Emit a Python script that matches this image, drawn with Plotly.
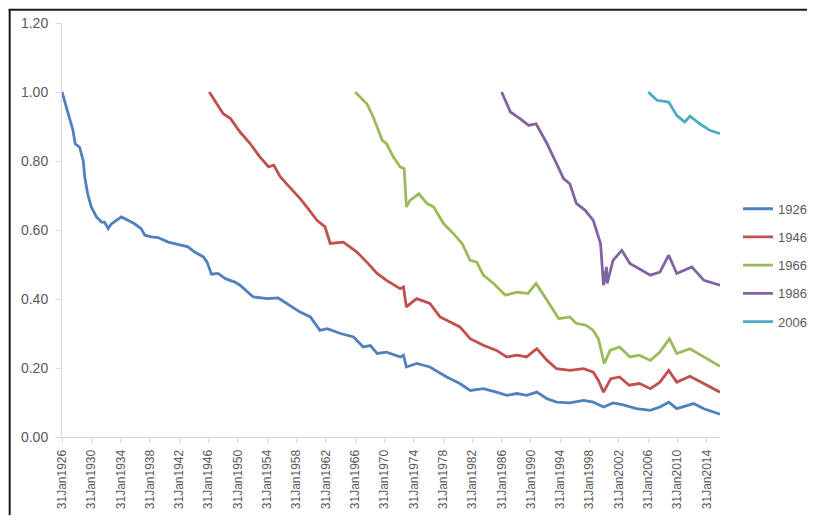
import plotly.graph_objects as go

# ---- data (decimal years, values) ----
t1926 = [1926.0, 1926.8, 1927.5, 1927.8, 1928.4, 1928.9, 1929.1, 1929.5, 1930.0, 1930.7, 1931.4, 1931.8,
         1932.3, 1932.7, 1933.4, 1934.1, 1935.0, 1935.9, 1936.8, 1937.3, 1938.2, 1939.1, 1940.5, 1941.8,
         1943.2, 1944.1, 1945.3, 1945.8, 1946.4, 1947.3, 1948.3, 1949.6, 1950.3, 1952.1, 1954.0, 1955.5,
         1957.1, 1958.5, 1959.9, 1961.2, 1962.2, 1964.0, 1965.8, 1967.1, 1968.1, 1969.0, 1970.3, 1972.2,
         1972.6, 1973.0, 1974.4, 1976.2, 1978.5, 1980.3, 1981.7, 1983.5, 1985.3, 1986.7, 1988.1, 1989.4,
         1990.8, 1992.2, 1993.5, 1995.3, 1997.2, 1998.5, 1999.9, 2001.2, 2002.6, 2004.4, 2006.3, 2007.6,
         2008.8, 2009.9, 2012.2, 2013.6, 2015.8]
v1926 = [1.00, 0.937, 0.889, 0.850, 0.84, 0.80, 0.754, 0.705, 0.667, 0.638, 0.623, 0.623,
         0.604, 0.617, 0.628, 0.638, 0.628, 0.618, 0.604, 0.585, 0.58, 0.578, 0.565, 0.558,
         0.551, 0.536, 0.522, 0.507, 0.472, 0.474, 0.459, 0.449, 0.44, 0.406, 0.401, 0.403,
         0.382, 0.362, 0.348, 0.309, 0.314, 0.30, 0.29, 0.261, 0.265, 0.242, 0.246, 0.232,
         0.237, 0.203, 0.213, 0.203, 0.174, 0.155, 0.135, 0.140, 0.130, 0.121, 0.126, 0.121,
         0.130, 0.111, 0.101, 0.099, 0.106, 0.101, 0.087, 0.099, 0.093, 0.082, 0.077, 0.087,
         0.101, 0.082, 0.097, 0.082, 0.066]

t1946 = [1946.1, 1948.0, 1949.0, 1950.3, 1951.7, 1953.0, 1954.2, 1954.9, 1955.8, 1957.1, 1958.5, 1959.4,
         1960.8, 1961.9, 1962.6, 1964.4, 1966.25, 1967.6, 1969.0, 1970.3, 1972.15, 1972.6, 1973.0, 1974.4,
         1976.2, 1977.6, 1978.9, 1980.3, 1981.7, 1983.5, 1985.3, 1986.7, 1988.1, 1989.4, 1990.8, 1992.2,
         1993.5, 1995.3, 1997.2, 1998.5, 1999.2, 1999.9, 2000.9, 2002.1, 2003.4, 2004.8, 2006.3, 2007.6,
         2008.8, 2009.9, 2011.7, 2013.6, 2015.8]
v1946 = [1.00, 0.937, 0.923, 0.884, 0.85, 0.812, 0.783, 0.788, 0.754, 0.725, 0.691, 0.667,
         0.628, 0.609, 0.561, 0.565, 0.536, 0.507, 0.474, 0.454, 0.43, 0.435, 0.377, 0.401,
         0.387, 0.348, 0.333, 0.319, 0.285, 0.266, 0.251, 0.232, 0.237, 0.232, 0.256, 0.222,
         0.198, 0.193, 0.198, 0.188, 0.164, 0.130, 0.169, 0.174, 0.15, 0.155, 0.14, 0.159,
         0.193, 0.159, 0.176, 0.155, 0.130]

t1966 = [1966.0, 1967.6, 1968.5, 1969.7, 1970.3, 1971.2, 1972.15, 1972.7, 1973.0, 1973.5, 1974.7, 1975.8,
         1976.7, 1978.1, 1979.4, 1980.6, 1981.7, 1982.6, 1983.5, 1984.9, 1986.5, 1988.1, 1989.6, 1990.7,
         1992.2, 1993.8, 1995.3, 1996.2, 1997.5, 1998.5, 1999.2, 2000.0, 2000.8, 2002.1, 2003.5, 2004.8,
         2006.3, 2007.6, 2008.9, 2009.9, 2011.7, 2013.6, 2015.8]
v1966 = [1.00, 0.966, 0.927, 0.86, 0.85, 0.812, 0.783, 0.778, 0.667, 0.686, 0.705, 0.677,
         0.667, 0.618, 0.59, 0.561, 0.512, 0.507, 0.469, 0.445, 0.411, 0.42, 0.416, 0.445,
         0.396, 0.343, 0.348, 0.329, 0.324, 0.309, 0.285, 0.213, 0.251, 0.261, 0.232, 0.237,
         0.222, 0.246, 0.285, 0.242, 0.256, 0.232, 0.205]

t1986 = [1986.0, 1987.2, 1988.5, 1989.7, 1990.7, 1992.2, 1993.5, 1994.45, 1995.3, 1996.2, 1997.4, 1998.5,
         1999.5, 1999.9, 2000.3, 2000.4, 2001.2, 2002.4, 2003.5, 2004.8, 2006.3, 2007.6, 2008.8, 2009.9,
         2011.95, 2013.6, 2015.8]
v1986 = [1.00, 0.942, 0.923, 0.903, 0.908, 0.85, 0.792, 0.749, 0.734, 0.677, 0.657, 0.628,
         0.561, 0.44, 0.493, 0.445, 0.512, 0.541, 0.503, 0.488, 0.469, 0.478, 0.527, 0.474,
         0.493, 0.454, 0.44]

t2006 = [2006.0, 2007.2, 2008.8, 2009.9, 2011.0, 2011.7, 2013.05, 2014.4, 2015.8]
v2006 = [1.00, 0.976, 0.971, 0.932, 0.913, 0.93, 0.908, 0.889, 0.879]

series_names = ["1926", "1946", "1966", "1986", "2006"]
series_t = [t1926, t1946, t1966, t1986, t2006]
series_v = [v1926, v1946, v1966, v1986, v2006]
colors = ["#4F81BD", "#C0504D", "#9BBB59", "#8064A2", "#4BACC6"]

tick_years = list(range(1926, 2015, 4))
tick_labels = ["31Jan%d" % y for y in tick_years]
y_ticks = [0.0, 0.2, 0.4, 0.6, 0.8, 1.0, 1.2]

fig = go.Figure()
for name, t, v, c in zip(series_names, series_t, series_v, colors):
    fig.add_trace(go.Scatter(x=t, y=v, mode="lines", name=name, legendgroup=name,
                             line=dict(color=c, width=2.8)))

# the page body adds an 8px margin; size the figure so nothing overflows
# and work in screen coordinates, subtracting the offset
OFF = 8
W, H = 799, 507
plot_l, plot_r, plot_t, plot_b = 62.3, 720, 22.7, 436.7
ml = plot_l - OFF
mr = W - (plot_r - OFF)
mt = plot_t - OFF
mb = H - (plot_b - OFF)
pw, ph = W - ml - mr, H - mt - mb

def px_x(p):
    return (p - OFF - ml) / pw

def px_y(p):
    return (H - mb - (p - OFF)) / ph

axis_col = "#D9D9D9"
txt_col = "#595959"
fig.update_layout(
    width=W, height=H,
    margin=dict(l=ml, r=mr, t=mt, b=mb, autoexpand=False),
    paper_bgcolor="white", plot_bgcolor="white",
    font=dict(family="Liberation Sans, Arial, sans-serif", size=12, color=txt_col),
    showlegend=True,
    legend=dict(x=px_x(738), y=px_y(193.5), xanchor="left", yanchor="top",
                font=dict(size=13, color=txt_col), tracegroupgap=8.3,
                itemwidth=30, bgcolor="rgba(0,0,0,0)"),
    xaxis=dict(range=[1926, 2015.8], tickmode="array", tickvals=tick_years, ticktext=tick_labels,
               tickangle=-90, showgrid=False, zeroline=False, showline=True, linecolor=axis_col,
               linewidth=1, ticks="outside", ticklen=5, tickcolor=axis_col, ticklabelstandoff=2,
               tickfont=dict(size=12, color=txt_col)),
    yaxis=dict(range=[0, 1.2], tickmode="array", tickvals=y_ticks, tickformat=".2f",
               showgrid=False, zeroline=False, showline=True, linecolor=axis_col, linewidth=1,
               ticks="outside", ticklen=5, tickcolor=axis_col, ticklabelstandoff=5,
               tickfont=dict(size=14, color=txt_col)),
    shapes=[
        dict(type="line", xref="paper", yref="paper", x0=px_x(9), x1=px_x(820), y0=px_y(9.5), y1=px_y(9.5),
             line=dict(color="#1a1a1a", width=2)),
        dict(type="line", xref="paper", yref="paper", x0=px_x(10), x1=px_x(10), y0=px_y(9), y1=px_y(530),
             line=dict(color="#1a1a1a", width=2)),
    ],
)

fig.write_html("out.html")
